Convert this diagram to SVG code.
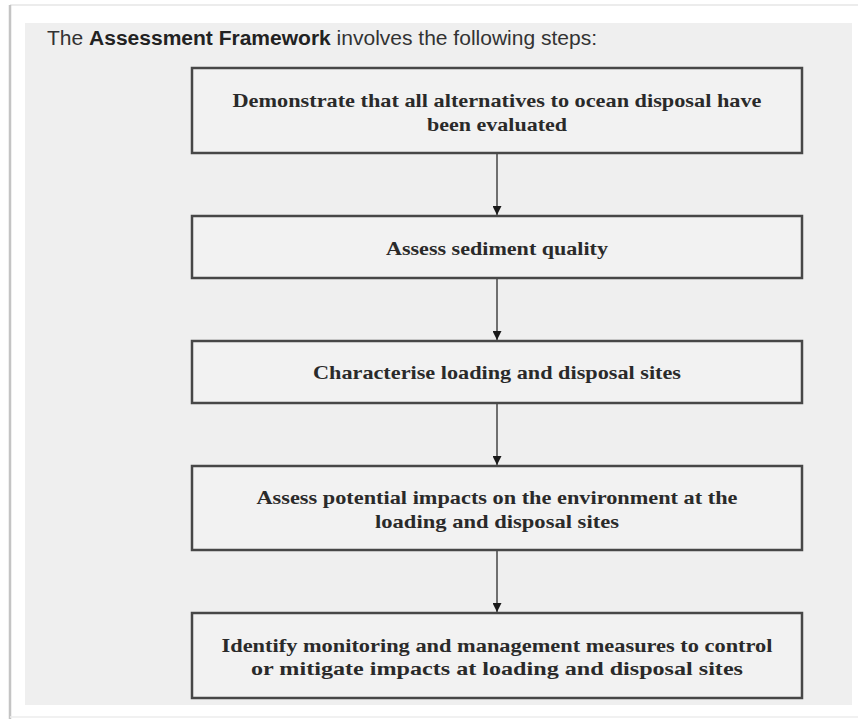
<svg xmlns="http://www.w3.org/2000/svg" width="858" height="719" viewBox="0 0 858 719">
<defs>
<style>
.box{fill:#f2f2f2;stroke:#474747;stroke-width:2.5}
.lbl{font-family:"Liberation Serif","Times New Roman",serif;font-weight:bold;font-size:19px;fill:#2a2a2a;text-anchor:middle}
.hdr{font-family:"Liberation Sans",Arial,sans-serif;font-size:20px;fill:#333}
.conn{stroke:#444;stroke-width:1.5;fill:none}
</style>
<marker id="ah" viewBox="0 0 10 10" refX="10" refY="5" markerWidth="9" markerHeight="9" markerUnits="userSpaceOnUse" orient="auto">
<path d="M0,0 L10,5 L0,10 Z" fill="#1a1a1a"/>
</marker>
</defs>
<rect x="0" y="0" width="858" height="719" fill="#ffffff"/>
<line x1="10" y1="5" x2="858" y2="5" stroke="#e6e6e6" stroke-width="1.5"/>
<line x1="10" y1="5" x2="10" y2="719" stroke="#c4c4c4" stroke-width="2.5"/>
<line x1="10" y1="717" x2="858" y2="717" stroke="#ececec" stroke-width="1.5"/>
<rect x="25" y="23" width="827" height="682" fill="#efefef"/>
<text class="hdr" x="47" y="45" textLength="550" lengthAdjust="spacingAndGlyphs">The <tspan font-weight="bold" fill="#222">Assessment Framework</tspan> involves the following steps:</text>
<g id="connectors">
<line class="conn" x1="497" y1="154" x2="497" y2="215" marker-end="url(#ah)"/>
<line class="conn" x1="497" y1="279" x2="497" y2="340" marker-end="url(#ah)"/>
<line class="conn" x1="497" y1="404" x2="497" y2="465" marker-end="url(#ah)"/>
<line class="conn" x1="497" y1="551" x2="497" y2="612" marker-end="url(#ah)"/>
</g>
<g id="n1">
<rect class="box" x="192" y="68" width="610" height="85"/>
<text class="lbl" x="497" y="107" textLength="529" lengthAdjust="spacingAndGlyphs">Demonstrate that all alternatives to ocean disposal have</text>
<text class="lbl" x="497" y="131" textLength="140" lengthAdjust="spacingAndGlyphs">been evaluated</text>
</g>
<g id="n2">
<rect class="box" x="192" y="216" width="610" height="62"/>
<text class="lbl" x="497" y="255" textLength="222" lengthAdjust="spacingAndGlyphs">Assess sediment quality</text>
</g>
<g id="n3">
<rect class="box" x="192" y="341" width="610" height="62"/>
<text class="lbl" x="497" y="379" textLength="368" lengthAdjust="spacingAndGlyphs">Characterise loading and disposal sites</text>
</g>
<g id="n4">
<rect class="box" x="192" y="466" width="610" height="84"/>
<text class="lbl" x="497" y="504" textLength="481" lengthAdjust="spacingAndGlyphs">Assess potential impacts on the environment at the</text>
<text class="lbl" x="497" y="528" textLength="244" lengthAdjust="spacingAndGlyphs">loading and disposal sites</text>
</g>
<g id="n5">
<rect class="box" x="192" y="613" width="610" height="85"/>
<text class="lbl" x="497" y="652" textLength="551" lengthAdjust="spacingAndGlyphs">Identify monitoring and management measures to control</text>
<text class="lbl" x="497" y="675" textLength="492" lengthAdjust="spacingAndGlyphs">or mitigate impacts at loading and disposal sites</text>
</g>
</svg>
